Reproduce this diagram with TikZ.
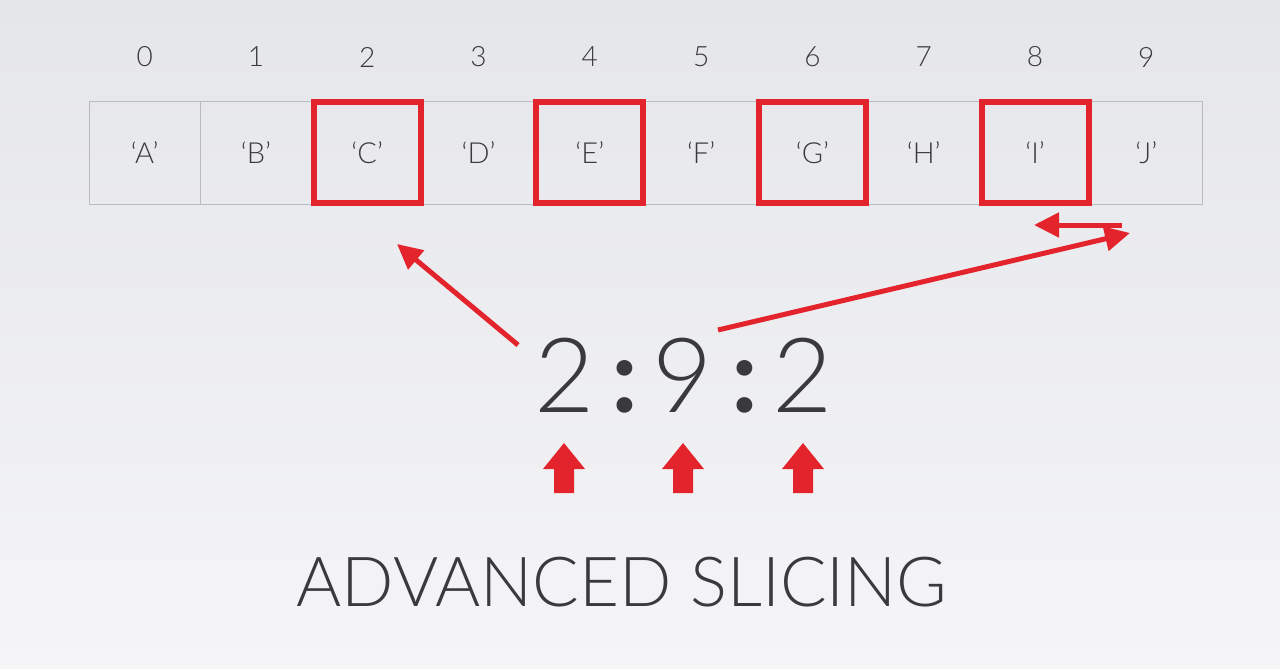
\documentclass[tikz,border=0pt]{standalone}
\usepackage{fontspec}
\setmainfont{Lato}[UprightFont={* Light}]
\newfontface\colonface{Lato Bold}
\usetikzlibrary{arrows.meta}
\definecolor{slicered}{RGB}{228,36,44}
\definecolor{inkgray}{RGB}{58,58,62}
\definecolor{gridgray}{RGB}{186,187,192}
\definecolor{bgtop}{RGB}{229,230,234}
\definecolor{bgbottom}{RGB}{245,245,247}

\begin{document}
\begin{tikzpicture}[x=1pt,y=-1pt,
    cell/.style={draw=gridgray, line width=0.8pt, minimum width=111.3pt, minimum height=103pt,
                 inner sep=0pt, text=inkgray, font=\fontsize{29}{29}\selectfont},
    index/.style={text=inkgray, inner sep=0pt, font=\fontsize{28}{28}\selectfont},
    picked/.style={draw=slicered, line width=6pt, minimum width=107pt, minimum height=101pt, inner sep=0pt},
    pointer/.style={draw=slicered, line width=5pt, -{Triangle[length=25pt,width=24pt]}},
    digit/.style={text=inkgray, inner sep=0pt, anchor=base, font=\fontsize{104}{104}\selectfont},
    colon/.style={digit, font=\fontsize{104}{104}\colonface}]

    % background
    \fill[top color=bgtop, bottom color=bgbottom] (0,0) rectangle (1280,669);

    % the list and its indices
    \foreach \i/\l in {0/A,1/B,2/C,3/D,4/E,5/F,6/G,7/H,8/I,9/J}{
        \node[cell] (c\i) at (144.65+111.3*\i,152.5) {`\l'};
        \node[index] (i\i) at (144.65+111.3*\i,57) {\i};
    }
    \foreach \i in {2,4,6,8}
        \node[picked] (p\i) at (c\i) {};

    % the slice 2:9:2
    \node[digit] (start) at (565,412) {2};
    \node[colon] (k1) at (625,412) {:};
    \node[digit] (stop) at (683,412) {9};
    \node[colon] (k2) at (745,412) {:};
    \node[digit] (step2) at (803,412) {2};

    \coordinate (fromstart) at (518,345);
    \coordinate (tostart) at (397,244);
    \coordinate (fromstop) at (718,330);
    \coordinate (tostop) at (1130,233);
    \coordinate (stepback) at (1122,225);
    \coordinate (stepto) at (1034,225);

    \draw[pointer] (fromstart) -- (tostart);
    \draw[pointer] (fromstop) -- (tostop);
    \draw[pointer] (stepback) -- (stepto);

    % block arrows under the numbers
    \foreach \x in {564,683,803}
        \fill[slicered] (\x-10,493) -- (\x-10,469) -- (\x-21,469) -- (\x,443)
                        -- (\x+21,469) -- (\x+10,469) -- (\x+10,493) -- cycle;

    \node[text=inkgray, font=\fontsize{69}{69}\selectfont, anchor=base] (title) at (622,606) {ADVANCED SLICING};
\end{tikzpicture}
\end{document}
